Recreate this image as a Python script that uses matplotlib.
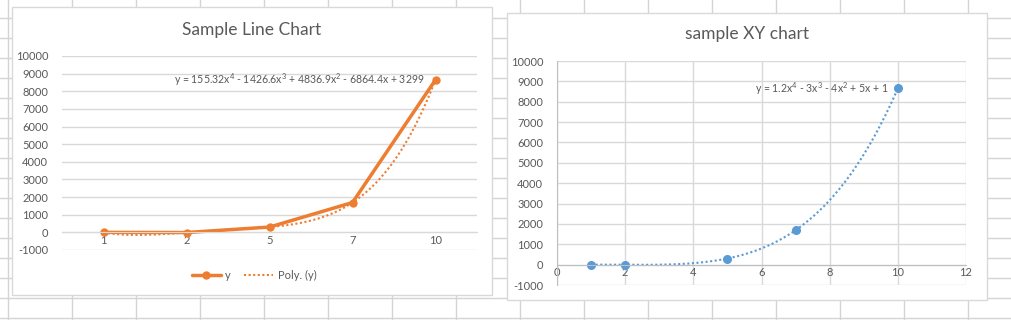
import matplotlib
matplotlib.use("Agg")
import matplotlib.pyplot as plt
from matplotlib.lines import Line2D
from matplotlib.patches import Rectangle
import numpy as np

# data
categorias = ["1", "2", "5", "7", "10"]
x_valores = [1, 2, 5, 7, 10]
y_valores = [0.2, -9.8, 301, 1692, 8651]
y_ticks = list(range(-1000, 10001, 1000))
xy_ticks = [0, 2, 4, 6, 8, 10, 12]

LARANJA = "#ED7D31"
AZUL = "#5B9BD5"
TEXTO = "#595959"
GRADE = "#d9d9d9"

plt.rcParams["font.family"] = ["Lato", "DejaVu Sans"]
plt.rcParams["mathtext.fontset"] = "custom"
plt.rcParams["mathtext.rm"] = "Lato"
plt.rcParams["mathtext.it"] = "Lato"

W, H = 1012, 320
fig = plt.figure(figsize=(W / 100, H / 100), dpi=100)


def fx(px):
    return px / W


def fy(py):
    return 1 - py / H


# planilha ao fundo
for cx in range(8, W, 64):
    fig.add_artist(Line2D([fx(cx), fx(cx)], [0, 1], color="#d4d4d4", lw=1, zorder=0))
for ry in range(18, H, 20):
    fig.add_artist(Line2D([0, 1], [fy(ry), fy(ry)], color="#d4d4d4", lw=1, zorder=0))

# molduras dos graficos
for (x0, y0, x1, y1) in [(12, 7, 492, 295), (507, 13, 987, 300)]:
    fig.add_artist(Rectangle((fx(x0), fy(y1)), fx(x1 - x0), (y1 - y0) / H,
                             facecolor="white", edgecolor=GRADE, lw=1, zorder=1))


def estilo_eixo(ax, cor_eixo):
    ax.set_facecolor("none")
    ax.set_ylim(-1000, 10000)
    ax.set_yticks(y_ticks)
    ax.set_yticklabels([str(v) for v in y_ticks])
    for s in ["top", "right", "left"]:
        ax.spines[s].set_visible(False)
    ax.spines["bottom"].set_position(("data", 0))
    ax.spines["bottom"].set_color(cor_eixo)
    ax.tick_params(length=0, labelsize=8, colors=TEXTO, pad=3)
    ax.grid(axis="y", color=GRADE, lw=1)
    ax.set_axisbelow(True)


# ---- grafico de linhas (eixo de categorias)
ax1 = fig.add_axes([fx(62), fy(250), fx(415), (250 - 56) / H], zorder=2)
estilo_eixo(ax1, GRADE)
pos = np.arange(1, len(categorias) + 1)
ax1.set_xlim(0.5, len(categorias) + 0.5)
ax1.set_xticks(pos)
ax1.set_xticklabels(categorias)
ax1.tick_params(axis="x", pad=2)
coef1 = np.polyfit(pos, y_valores, 4)
xs1 = np.linspace(1, len(categorias), 300)
ax1.plot(pos, y_valores, color=LARANJA, lw=2.5, marker="o", ms=5, label="y",
         solid_capstyle="round")
ax1.plot(xs1, np.polyval(coef1, xs1), color=LARANJA, lw=1.5, ls=(0, (1, 1.2)),
         label="Poly. (y)")
ax1.tick_params(axis="y", pad=10)
fig.text(fx(252), fy(30), "Sample Line Chart", ha="center", va="center",
         fontsize=12.5, color=TEXTO)
fig.text(fx(174), fy(80),
         r"y = 155.32x$^{4}$ - 1426.6x$^{3}$ + 4836.9x$^{2}$ - 6864.4x + 3299",
         ha="left", va="center", fontsize=7.6, color=TEXTO)
ax1.legend(loc="center", bbox_to_anchor=(fx(254), fy(275)),
           bbox_transform=fig.transFigure, ncol=2, frameon=False, fontsize=8,
           labelcolor=TEXTO, handlelength=2.6, columnspacing=1.2, handletextpad=0.4)

# ---- grafico XY
ax2 = fig.add_axes([fx(557), fy(285), fx(409), (285 - 61) / H], zorder=2)
estilo_eixo(ax2, "#bfbfbf")
ax2.set_xlim(0, 12)
ax2.set_xticks(xy_ticks)
ax2.set_xticklabels([str(v) for v in xy_ticks])
ax2.tick_params(axis="x", pad=2)
ax2.grid(axis="x", color=GRADE, lw=1)
ax2.spines["left"].set_visible(True)
ax2.spines["left"].set_color("#bfbfbf")
ax2.spines["left"].set_position(("data", 0))
ax2.tick_params(axis="y", pad=10)
coef2 = np.polyfit(x_valores, y_valores, 4)
xs2 = np.linspace(1, 10, 300)
ax2.plot(xs2, np.polyval(coef2, xs2), color=AZUL, lw=1.5, ls=(0, (1, 1.2)))
ax2.plot(x_valores, y_valores, color=AZUL, lw=0, marker="o", ms=5.5)
fig.text(fx(747), fy(34), "sample XY chart", ha="center", va="center",
         fontsize=12.5, color=TEXTO)
fig.text(fx(755), fy(89), r"y = 1.2x$^{4}$ - 3x$^{3}$ - 4x$^{2}$ + 5x + 1",
         ha="left", va="center", fontsize=7.6, color=TEXTO)

fig.savefig("out.png", dpi=100)
